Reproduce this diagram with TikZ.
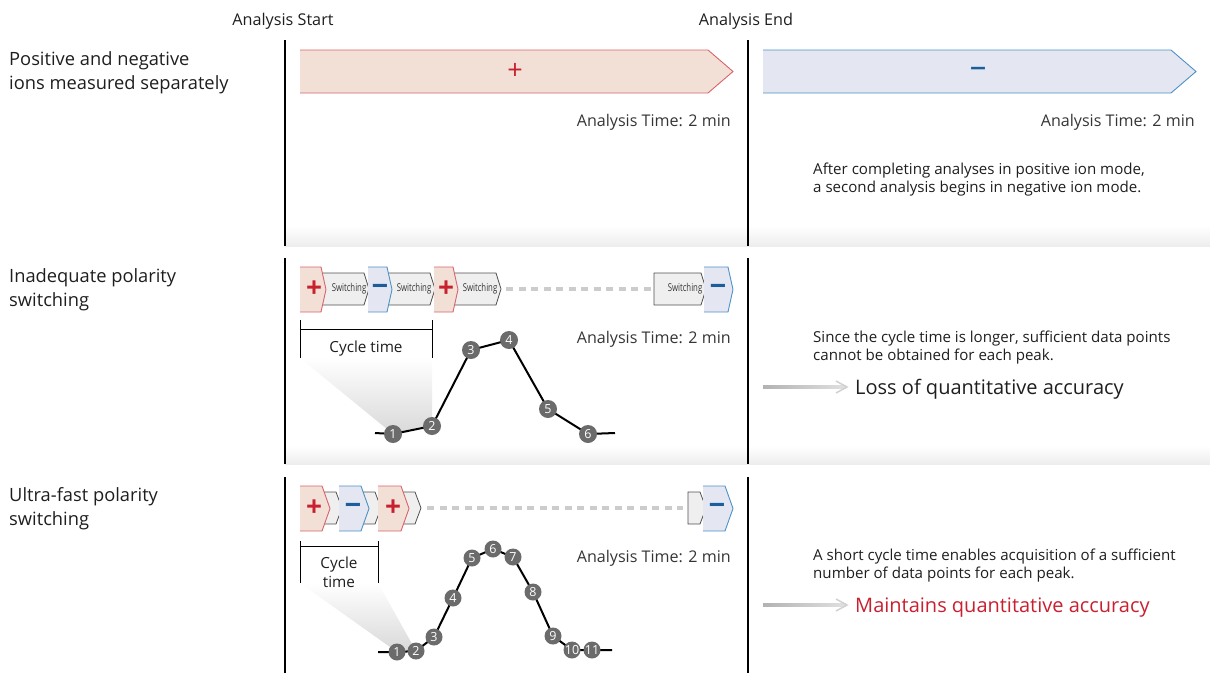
\documentclass[tikz,border=0pt]{standalone}
\usepackage{fontspec}
\setmainfont{Open Sans}
\usetikzlibrary{calc}
\definecolor{ink}{HTML}{1E1E1E}
\definecolor{posfill}{HTML}{F2E0D6}
\definecolor{posline}{HTML}{D9636B}
\definecolor{possign}{HTML}{C8202F}
\definecolor{negfill}{HTML}{E4E7F1}
\definecolor{negline}{HTML}{4D91C6}
\definecolor{negsign}{HTML}{1B5E9B}
\definecolor{swfill}{HTML}{EFEFEF}
\definecolor{swline}{HTML}{505050}
\definecolor{dotfill}{HTML}{6B6B6B}
\definecolor{accent}{HTML}{C8202F}

% polarity chevron: #1 pos/neg, #2 left x, #3 tip x, #4 top y, #5 bottom y, #6 tip depth
\newcommand\polchev[6]{%
  \fill[#1fill] (#2,#4) -- ({#3-#6},#4) -- (#3,{(#4+#5)/2}) -- ({#3-#6},#5) -- (#2,#5) -- cycle;
  \draw[#1line, line width=0.9] (#2,#4) -- ({#3-#6},#4) -- (#3,{(#4+#5)/2}) -- ({#3-#6},#5) -- (#2,#5);}
% switching chevron: #1 left x, #2 tip x, #3 top y, #4 bottom y, #5 tip depth
\newcommand\swchev[5]{%
  \filldraw[fill=swfill, draw=swline, line width=0.8] (#1,#3) -- ({#2-#5},#3) -- (#2,{(#3+#4)/2}) -- ({#2-#5},#4) -- (#1,#4) -- cycle;}

% multi-line nodes below are placed by the baseline of their last line
\tikzset{
  label/.style={text=ink, font=\fontsize{18.3}{24}\selectfont, align=left, anchor=base west, inner sep=0},
  head/.style={text=ink, font=\fontsize{16.2}{18}\selectfont, anchor=base, inner sep=0},
  atime/.style={text=ink!90, font=\fontsize{16.1}{18}\selectfont, anchor=base east, inner sep=0},
  note/.style={text=ink, font=\fontsize{15.1}{18}\selectfont, align=left, anchor=base west, inner sep=0},
  result/.style={font=\fontsize{20}{24}\selectfont, anchor=base west, inner sep=0},
  cyc/.style={text=ink, font=\fontsize{15.3}{19}\selectfont, align=center, anchor=base, inner sep=0},
  bigsign/.style={font=\fontsize{27}{27}\selectfont, inner sep=0},
  bigminus/.style={font=\bfseries\fontsize{22}{22}\selectfont, inner sep=0},
  sign/.style={font=\bfseries\fontsize{28}{28}\selectfont, inner sep=0},
  swtext/.style={text=ink!90, font=\fontsize{10.8}{11}\selectfont, inner sep=0},
  dot/.style={circle, fill=dotfill, text=white, minimum size=18, inner sep=0, font=\fontsize{12.5}{12}\selectfont},
  sdot/.style={dot, minimum size=17},
  sep/.style={line width=1.2, black},
  trace/.style={line width=2, black},
  dashline/.style={line width=4, black!20, dash pattern=on 7 off 5.5},
  cone/.style={top color=white, bottom color=black!15},
  band/.style={top color=white, bottom color=black!7},
}
\newcommand\swlabel{\scalebox{0.72}[1]{Switching}}
\newcommand\minussign{\scalebox{1.2}[1]{–}}
\newcommand\wideminus{\scalebox{1.5}[1]{–}}

\begin{document}
\begin{tikzpicture}[x=1pt, y=-1pt]
\useasboundingbox (0,0) rectangle (1210,673);

% section shading bands
\shade[band] (285,226) rectangle (1210,246);
\shade[band] (285,446) rectangle (1210,464);

% analysis start / end markers
\node[head] (start) at (283,25) {Analysis Start};
\node[head] (end) at (746,25) {Analysis End};
\foreach \x in {285,748} {
  \draw[sep] (\x,40) -- (\x,246);
  \draw[sep] (\x,258) -- (\x,464);
  \draw[sep] (\x,477) -- (\x,673);
}

% ---------- row 1: separate measurement ----------
\node[label] (l1) at (9,89) {Positive and negative\\ions measured separately};
\polchev{pos}{300}{733}{50}{93}{25}
\polchev{neg}{763}{1196}{50}{93}{25}
\node[bigsign, text=possign] (p1) at (515,71) {+};
\node[bigminus, text=negsign] (m1) at (978,71) {\wideminus};
\node[atime] (t1a) at (731,126) {Analysis Time: 2 min};
\node[atime] (t1b) at (1195,126) {Analysis Time: 2 min};
\node[note] (n1) at (813,192) {After completing analyses in positive ion mode,\\a second analysis begins in negative ion mode.};

% ---------- row 2: inadequate switching ----------
\node[label] (l2) at (9,306) {Inadequate polarity\\switching};
\swchev{320}{369}{273}{305}{5}
\swchev{388}{435}{273}{305}{5}
\swchev{454}{501}{273}{305}{5}
\swchev{654}{706}{273}{305}{5}
\coordinate (d2a) at (506,289);
\coordinate (d2b) at (651,289);
\draw[dashline] (d2a) -- (d2b);
\polchev{pos}{300}{326}{267}{312}{5}
\polchev{neg}{368}{392}{267}{312}{5}
\polchev{pos}{434}{458}{267}{312}{5}
\polchev{neg}{704}{733}{267}{312}{5}
\node[sign, text=possign] at (314,289) {+};
\node[sign, text=negsign] at (380,289) {\minussign};
\node[sign, text=possign] at (446,289) {+};
\node[sign, text=negsign] at (718,289) {\minussign};
\node[swtext] at (349,289) {\swlabel};
\node[swtext] at (414,289) {\swlabel};
\node[swtext] at (480,289) {\swlabel};
\node[swtext] at (685,289) {\swlabel};

% cycle time bracket and its projection
\shade[cone] (300,358) -- (432,358) -- (432,426) -- (393,434) -- cycle;
\draw[line width=0.9] (300,320) -- (300,358) (432,320) -- (432,358) (300,329) -- (432,329);
\node[cyc] (c2) at (366,352) {Cycle time};

% chromatogram with 6 data points
\coordinate (a0) at (375,433);
\coordinate (a1) at (393,434);
\coordinate (a2) at (432,426);
\coordinate (a3) at (471,350);
\coordinate (a4) at (509,340);
\coordinate (a5) at (548,409);
\coordinate (a6) at (588,434);
\coordinate (a7) at (615,433);
\draw[trace] (a0) -- (a1) -- (a2) -- (a3) -- (a4) -- (a5) -- (a6) -- (a7);
\foreach \i in {1,...,6} { \node[dot] (pa\i) at (a\i) {\i}; }
\node[atime] (t2) at (731,343) {Analysis Time: 2 min};

\node[note] (n2) at (813,360) {Since the cycle time is longer, sufficient data points\\cannot be obtained for each peak.};
\node[result, text=ink] (r2) at (855,394) {Loss of quantitative accuracy};
\coordinate (g2) at (763,387);
\shade[left color=black!30, right color=black!12] ($(g2)+(0,-1.3)$) rectangle ($(r2.west |- g2)+(-9,1.3)$);
\draw[black!18, line width=1.5] ($(r2.west |- g2)+(-19,-6)$) -- ($(r2.west |- g2)+(-8,0)$) -- ($(r2.west |- g2)+(-19,6)$);

% ---------- row 3: ultra-fast switching ----------
\node[label] (l3) at (9,525) {Ultra-fast polarity\\switching};
\swchev{324}{342}{492}{524}{6}
\swchev{363}{381}{492}{524}{6}
\swchev{402}{421}{492}{524}{6}
\swchev{688}{706}{492}{524}{6}
\coordinate (d3a) at (427,508);
\coordinate (d3b) at (683,508);
\draw[dashline] (d3a) -- (d3b);
\polchev{pos}{300}{330}{486}{531}{8}
\polchev{neg}{339}{369}{486}{531}{8}
\polchev{pos}{378}{409}{486}{531}{8}
\polchev{neg}{703}{733}{486}{531}{8}
\node[sign, text=possign] at (314,508) {+};
\node[sign, text=negsign] at (353,508) {\minussign};
\node[sign, text=possign] at (393,508) {+};
\node[sign, text=negsign] at (717,508) {\minussign};

\shade[cone] (300,583) -- (378,583) -- (416,651) -- (397,652) -- cycle;
\draw[line width=0.9] (300,541) -- (300,583) (378,541) -- (378,583) (300,546) -- (378,546);
\node[cyc] (c3) at (339,587) {Cycle\\time};

% chromatogram with 11 data points
\coordinate (b0) at (378,652);
\coordinate (b1) at (397,652);
\coordinate (b2) at (416,651);
\coordinate (b3) at (434,637);
\coordinate (b4) at (453,598);
\coordinate (b5) at (472,558);
\coordinate (b6) at (493,549);
\coordinate (b7) at (513,557);
\coordinate (b8) at (533,592);
\coordinate (b9) at (553,636);
\coordinate (b10) at (572,650);
\coordinate (b11) at (592,650);
\coordinate (b12) at (612,650);
\draw[trace] (b0) \foreach \i in {1,...,12} { -- (b\i) };
\foreach \i in {1,...,11} { \node[sdot] (pb\i) at (b\i) {\i}; }
\node[atime] (t3) at (731,562) {Analysis Time: 2 min};

\node[note] (n3) at (813,578) {A short cycle time enables acquisition of a sufficient\\number of data points for each peak.};
\node[result, text=accent] (r3) at (855,612) {Maintains quantitative accuracy};
\coordinate (g3) at (763,605);
\shade[left color=black!30, right color=black!12] ($(g3)+(0,-1.3)$) rectangle ($(r3.west |- g3)+(-9,1.3)$);
\draw[black!18, line width=1.5] ($(r3.west |- g3)+(-19,-6)$) -- ($(r3.west |- g3)+(-8,0)$) -- ($(r3.west |- g3)+(-19,6)$);
\end{tikzpicture}
\end{document}
